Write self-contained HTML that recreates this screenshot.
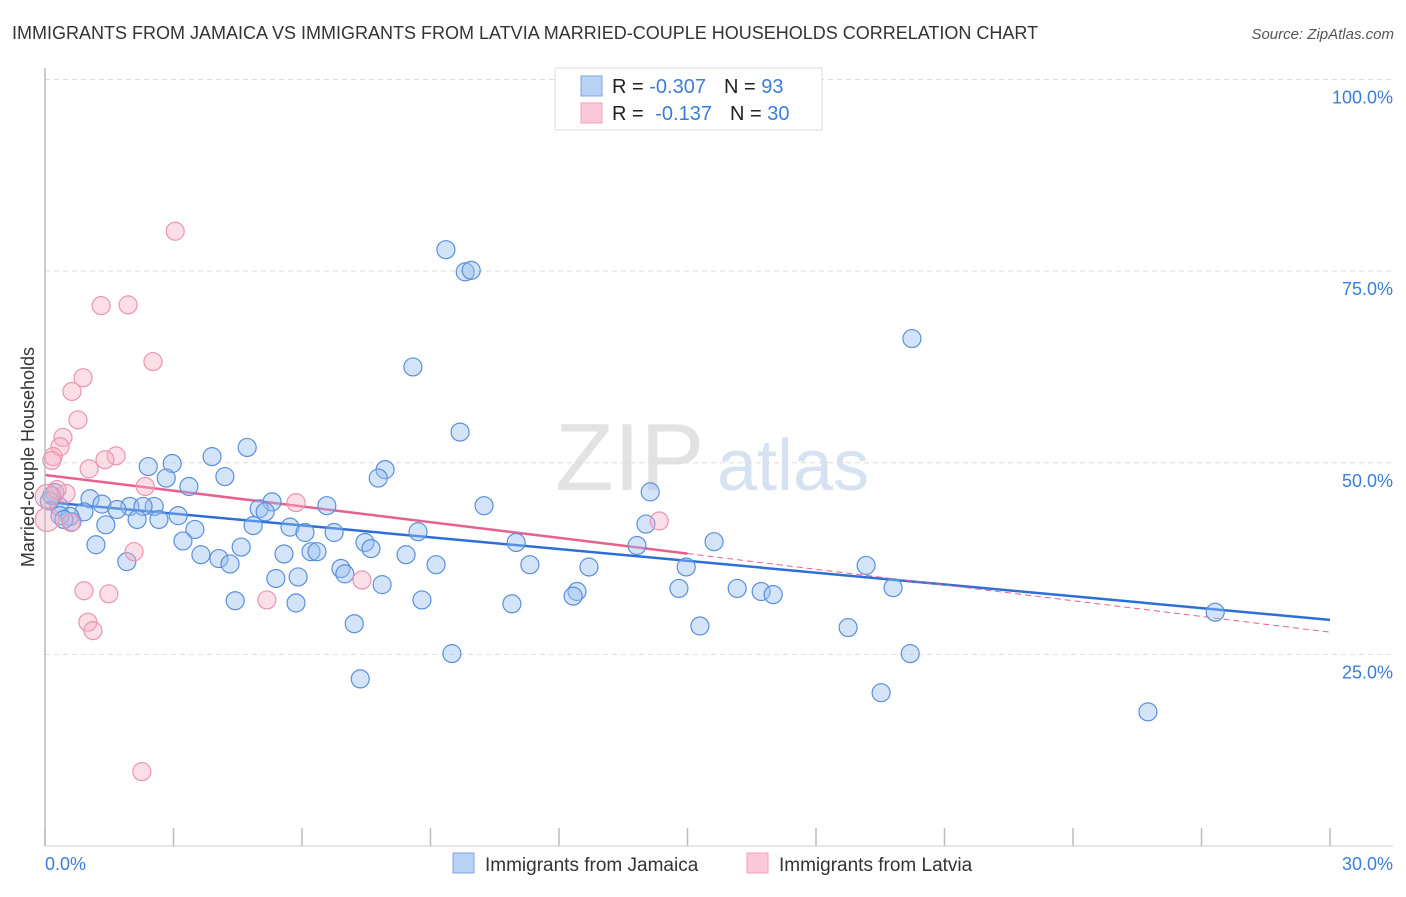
<!DOCTYPE html>
<html><head><meta charset="utf-8"><style>
body{margin:0;background:#fff;width:1406px;height:892px;overflow:hidden;font-family:"Liberation Sans",sans-serif;}
svg text{font-family:"Liberation Sans",sans-serif;}
</style></head><body>
<svg id="chart" width="1406" height="892" xmlns="http://www.w3.org/2000/svg">
<text x="12" y="39" font-size="18" fill="#333">IMMIGRANTS FROM JAMAICA VS IMMIGRANTS FROM LATVIA MARRIED-COUPLE HOUSEHOLDS CORRELATION CHART</text>
<text x="1394" y="39" font-size="15" fill="#555" font-style="italic" text-anchor="end">Source: ZipAtlas.com</text>
<g>
<text x="555" y="490" font-size="96" fill="#e2e2e2" font-family="Liberation Serif,serif">ZIP</text>
<text x="717" y="490" font-size="72" fill="#d6e2f2">atlas</text>
</g>
<text transform="translate(34,457) rotate(-90)" font-size="18" fill="#333" text-anchor="middle">Married-couple Households</text>
<g id="grid"></g><g id="ticks"></g><g id="trends"></g><g id="points"></g>
<line x1="45" y1="68" x2="45" y2="846" stroke="#bbb" stroke-width="1.5"/>
<line x1="45" y1="846" x2="1393" y2="846" stroke="#ccc" stroke-width="1"/>
<text x="45" y="870" font-size="18" fill="#3b7dd8">0.0%</text>
<text x="1393" y="870" font-size="18" fill="#3b7dd8" text-anchor="end">30.0%</text>
<g>
<rect x="555" y="68" width="267" height="62" fill="#fff" stroke="#ddd"/>
<rect x="581" y="76" width="21" height="20" fill="#b8d2f4" stroke="#7aa6e6"/>
<rect x="581" y="103" width="21" height="20" fill="#fac8d8" stroke="#f0a0ba"/>
<text x="612" y="93" font-size="20" fill="#222">R = <tspan fill="#3b7dd8">-0.307</tspan><tspan dx="18">N = </tspan><tspan fill="#3b7dd8">93</tspan></text>
<text x="612" y="120" font-size="20" fill="#222">R = <tspan dx="6" fill="#3b7dd8">-0.137</tspan><tspan dx="18">N = </tspan><tspan fill="#3b7dd8">30</tspan></text>
</g>
<g>
<rect x="453" y="853" width="21" height="20" fill="#b8d2f4" stroke="#7aa6e6"/>
<text x="485" y="871" font-size="19" fill="#333">Immigrants from Jamaica</text>
<rect x="747" y="853" width="21" height="20" fill="#fac8d8" stroke="#f0a0ba"/>
<text x="779" y="871" font-size="19" fill="#333">Immigrants from Latvia</text>
</g>
</svg>
<script>
const yTicks=[100,75,50,25];
const yTickLabels=["100.0%","75.0%","50.0%","25.0%"];
const xTicks=[0,3,6,9,12,15,18,21,24,27,30];
const jamaicaX=[9.36,9.81,9.95,8.59,20.24,9.69,4.72,3.90,2.41,2.97,7.94,7.78,4.20,2.83,3.36,14.13,10.25,6.58,1.05,1.33,5.30,5.00,5.14,1.98,2.55,2.29,1.68,0.91,0.33,0.23,0.16,3.11,2.15,2.66,5.72,4.86,1.42,0.63,0.58,6.07,6.75,8.71,14.03,3.50,11.0,15.62,13.82,1.19,3.22,4.58,7.47,7.61,6.21,6.35,5.58,3.64,8.43,4.06,4.32,1.91,9.13,11.32,12.70,14.97,19.17,6.91,7.00,5.39,5.91,7.87,19.80,14.80,16.16,16.72,17.00,12.42,12.33,4.44,5.86,8.80,10.90,27.32,15.29,7.22,18.75,9.50,20.20,7.36,19.52,25.75,0.35,0.44,0.1];
const jamaicaY=[77.8,74.9,75.1,62.5,66.2,54.0,52.0,50.8,49.5,49.9,49.1,48.0,48.2,48.0,46.9,46.2,44.4,44.4,45.3,44.6,44.9,44.0,43.6,44.3,44.3,44.3,43.9,43.6,44.3,46.1,45.7,43.1,42.6,42.6,41.6,41.8,41.9,42.3,43.0,40.9,40.9,41.0,42.0,41.3,39.6,39.7,39.2,39.3,39.8,39.0,39.6,38.8,38.4,38.4,38.1,38.0,38.0,37.5,36.8,37.1,36.7,36.7,36.4,36.4,36.6,36.2,35.5,34.9,35.1,34.1,33.7,33.6,33.6,33.2,32.8,33.2,32.6,32.0,31.7,32.1,31.6,30.5,28.7,29.0,28.5,25.1,25.1,21.8,20.0,17.5,43.1,42.6,45.0];
const latviaX=[3.04,1.31,1.94,2.52,0.89,0.63,0.77,0.42,0.35,0.19,0.16,1.66,1.40,1.03,2.34,0.49,0.28,5.86,0.61,14.34,2.08,7.40,0.91,1.49,5.18,1.00,1.12,2.26,0.05,0.05];
const latviaY=[80.2,70.5,70.6,63.2,61.1,59.3,55.6,53.3,52.1,50.8,50.3,50.9,50.4,49.2,46.9,46.0,46.5,44.8,42.2,42.4,38.4,34.7,33.3,32.9,32.1,29.2,28.1,9.7,42.6,45.6];
const jamaicaTrend=[44.9,29.5];
const latviaTrend=[48.4,27.9];
const latviaSolidEnd=15;
const NS="http://www.w3.org/2000/svg";
const X0=45,X1=1330,Y0=846,Y100=79.5;
function sx(v){return X0+(v/30)*(X1-X0);}
function sy(v){return Y0-(v/100)*(Y0-Y100);}
function mk(t,a,p){const e=document.createElementNS(NS,t);for(const k in a)e.setAttribute(k,a[k]);p.appendChild(e);return e;}
const grid=document.getElementById('grid');
yTicks.forEach((t,i)=>{
 const l=mk('line',{x1:X0,x2:1393,y1:sy(t),y2:sy(t),stroke:'#ddd','stroke-dasharray':'5,4'},grid);
 
 
 const tx=mk('text',{x:1393,y:sy(t)+24,'font-size':18,fill:'#3b7dd8','text-anchor':'end'},grid);
 tx.textContent=yTickLabels[i];
 
 
});
const ticks=document.getElementById('ticks');
xTicks.forEach(t=>{
 const l=mk('line',{x1:sx(t),x2:sx(t),y1:828,y2:846,stroke:'#bbb','stroke-width':1.5},ticks);
 
 
});
const tr=document.getElementById('trends');
let l1=mk('line',{x1:sx(0),y1:sy(jamaicaTrend[0]),x2:sx(30),y2:sy(jamaicaTrend[1]),stroke:'#2d6fd6','stroke-width':2.5},tr);


const latMid=latviaTrend[0]+(latviaTrend[1]-latviaTrend[0])*latviaSolidEnd/30;
let l2=mk('line',{x1:sx(0),y1:sy(latviaTrend[0]),x2:sx(latviaSolidEnd),y2:sy(latMid),stroke:'#e8608e','stroke-width':2.5},tr);


let l3=mk('line',{x1:sx(latviaSolidEnd),y1:sy(latMid),x2:sx(30),y2:sy(latviaTrend[1]),stroke:'#e8608e','stroke-width':1,'stroke-dasharray':'6,4'},tr);


const pts=document.getElementById('points');
jamaicaX.forEach((x,i)=>{
 const c=mk('circle',{cx:sx(x),cy:sy(jamaicaY[i]),r:9,fill:'rgba(150,190,240,0.42)',stroke:'#5a8fdc','stroke-width':1.2},pts);
 
 
});
latviaX.forEach((x,i)=>{
 const c=mk('circle',{cx:sx(x),cy:sy(latviaY[i]),r:i>=28?12:9,fill:'rgba(248,176,198,0.42)',stroke:'#eb94b0','stroke-width':1.2},pts);
 
 
});
</script>
</body></html>
